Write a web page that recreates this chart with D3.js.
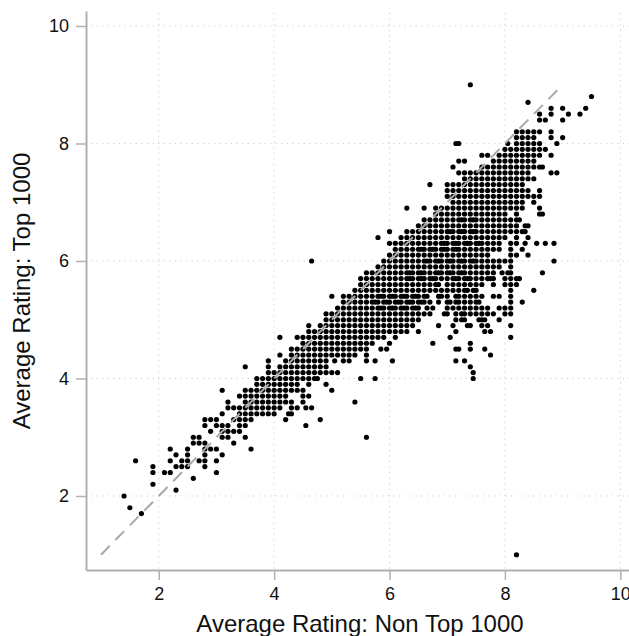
<!DOCTYPE html>
<html>
<head>
<meta charset="utf-8">
<script src="https://cdn.jsdelivr.net/npm/d3@7"></script>
<style>
  html, body { margin: 0; padding: 0; background: #fff; overflow: hidden; }
  text { font-family: "Liberation Sans", Arial, sans-serif; fill: #111; }
</style>
</head>
<body>
<div id="chart"></div>
<script>
// Axis ticks
const xTicks = [2, 4, 6, 8, 10];
const yTicks = [2, 4, 6, 8, 10];
const referenceLine = [1, 9];

// Each entry of nonTopRatings holds the x values of one row of dots
const topRatings = [1.0,1.7,1.8,2.0,2.1,2.2,2.3,2.4,2.5,2.6,2.7,2.8,2.9,3.0,3.1,3.2,3.3,3.4,3.5,3.6,3.7,3.8,3.9,4.0,4.1,4.2,4.3,4.4,4.5,4.6,4.7,4.8,4.9,5.0,5.1,5.2,5.3,5.4,5.5,5.6,5.7,5.8,5.9,6.0,6.1,6.2,6.3,6.4,6.5,6.6,6.7,6.8,6.9,7.0,7.1,7.2,7.3,7.4,7.5,7.6,7.7,7.8,7.9,8.0,8.1,8.2,8.4,8.5,8.6,8.7,8.8,9.0];
const nonTopRatings = [
  [8.2],
  [1.7],
  [1.5],
  [1.4],
  [2.3],
  [1.9],
  [2.6],
  [1.9,2.1,2.2,3.0],
  [1.9,2.3,2.4,2.5,2.8],
  [1.6,2.2,2.4,2.5,2.7,2.8,3.0],
  [2.3,2.5,2.8,3.1],
  [2.2,2.5,2.8,2.9,3.0,3.6],
  [2.6,2.7,2.8,3.3],
  [2.6,2.7,3.1,3.2,3.5,5.6],
  [2.9,3.1,3.2,3.3,3.4],
  [2.8,3.0,3.1,3.2,3.4,3.5,4.55],
  [2.8,2.9,3.0,3.3,3.4,3.5,3.6,4.2,4.8],
  [3.1,3.4,3.5,3.6,3.7,3.8,3.9,4.0,4.25,4.3],
  [3.2,3.3,3.4,3.5,3.6,3.7,3.8,3.9,4.0,4.1,4.3,4.4,4.55,4.65],
  [3.2,3.5,3.6,3.7,3.8,3.9,4.0,4.1,4.2,4.3,4.5,5.4],
  [3.4,3.5,3.6,3.7,3.8,3.9,4.0,4.1,4.2,4.5,4.6],
  [3.1,3.5,3.6,3.7,3.8,3.9,4.0,4.1,4.2,4.3,4.4,4.5,5.0],
  [3.7,3.8,3.9,4.0,4.1,4.2,4.3,4.4,4.6,4.9],
  [3.7,3.8,3.9,4.0,4.1,4.2,4.3,4.4,4.5,4.6,4.7,4.75,5.5,5.75,7.45],
  [3.9,4.0,4.1,4.2,4.3,4.4,4.5,4.6,4.7,4.8,4.9,5.0,5.1,7.45],
  [3.5,3.9,4.1,4.2,4.3,4.4,4.5,4.6,4.7,4.8,4.9,7.4],
  [3.9,4.2,4.3,4.4,4.5,4.6,4.7,4.8,4.9,5.05,5.2,5.3,5.6,5.75,6.05,7.15,7.3],
  [4.1,4.3,4.4,4.5,4.6,4.7,4.8,4.9,5.0,5.1,5.2,5.3,5.4,5.6,7.75],
  [4.3,4.4,4.5,4.6,4.7,4.8,4.9,5.0,5.1,5.2,5.3,5.4,5.5,5.6,5.85,5.95,7.15,7.2,7.4,7.65],
  [4.5,4.6,4.7,4.8,4.9,5.0,5.1,5.2,5.3,5.4,5.5,5.6,5.7,6.0,6.75,7.4],
  [4.1,4.4,4.5,4.6,4.7,4.8,4.9,5.0,5.1,5.2,5.3,5.4,5.5,5.6,5.7,5.8,5.9,6.1,7.05,8.1],
  [4.6,4.7,4.8,4.9,5.0,5.1,5.2,5.3,5.4,5.5,5.6,5.7,5.8,5.9,6.0,6.1,6.2,6.3,6.5,7.15,7.65,7.75],
  [4.6,4.8,4.9,5.0,5.1,5.2,5.3,5.4,5.5,5.6,5.7,5.8,5.9,6.0,6.1,6.2,6.3,6.4,6.85,7.1,7.35,7.4,7.6,7.7,8.1],
  [4.9,5.0,5.1,5.2,5.3,5.4,5.5,5.6,5.7,5.8,5.9,6.0,6.1,6.2,6.3,6.4,6.5,7.15,7.25,7.3,7.55,7.6,7.65,7.9],
  [4.9,5.0,5.1,5.2,5.3,5.4,5.5,5.6,5.7,5.8,5.9,6.0,6.1,6.2,6.3,6.4,6.5,6.6,6.7,6.95,7.0,7.15,7.25,7.3,7.4,7.5,7.6,7.7,7.8,8.0,8.1],
  [5.1,5.2,5.3,5.4,5.5,5.6,5.7,5.8,5.9,6.0,6.1,6.2,6.3,6.4,6.5,6.65,6.75,7.0,7.1,7.2,7.3,7.4,7.5,7.6,7.7,7.9,8.0,8.1],
  [5.2,5.3,5.4,5.5,5.6,5.7,5.8,5.9,6.0,6.1,6.2,6.3,6.4,6.5,6.6,6.7,6.85,7.0,7.05,7.15,7.2,7.3,7.4,7.5,7.55,8.1,8.3],
  [5.0,5.2,5.3,5.4,5.5,5.6,5.7,5.8,5.9,6.0,6.1,6.2,6.3,6.4,6.5,6.6,6.65,6.85,6.9,7.0,7.15,7.2,7.3,7.4,7.5,7.6,7.8,7.9,8.1],
  [5.4,5.5,5.6,5.7,5.8,5.9,6.0,6.1,6.2,6.3,6.4,6.5,6.6,6.7,6.8,6.9,7.0,7.1,7.2,7.3,7.35,7.45,7.5,8.1,8.5],
  [5.5,5.6,5.7,5.8,5.9,6.0,6.1,6.2,6.3,6.4,6.5,6.6,6.7,6.8,6.85,7.0,7.1,7.2,7.3,7.4,7.5,7.6,7.8,8.0,8.1,8.2],
  [5.5,5.6,5.7,5.8,5.9,6.0,6.1,6.2,6.3,6.4,6.5,6.6,6.7,6.8,6.9,7.0,7.1,7.2,7.3,7.4,7.5,7.6,7.7,7.75,7.8,8.0,8.1,8.2,8.25],
  [5.6,5.7,5.8,5.9,6.0,6.1,6.2,6.3,6.4,6.5,6.6,6.7,6.8,6.9,7.0,7.1,7.2,7.3,7.4,7.5,7.6,7.7,7.8,7.95,8.05,8.1,8.65],
  [5.8,5.9,6.0,6.1,6.2,6.3,6.4,6.5,6.6,6.7,6.8,6.9,7.0,7.1,7.2,7.3,7.4,7.5,7.6,7.7,7.8,7.9,8.1],
  [4.65,5.9,6.0,6.1,6.2,6.3,6.4,6.5,6.6,6.7,6.8,6.9,7.0,7.1,7.2,7.3,7.4,7.5,7.6,7.7,7.8,7.9,8.0,8.1,8.85],
  [6.0,6.1,6.2,6.3,6.4,6.5,6.6,6.7,6.8,6.9,7.0,7.1,7.2,7.3,7.4,7.5,7.6,7.7,8.1,8.2,8.4],
  [6.1,6.2,6.3,6.4,6.5,6.6,6.7,6.8,6.9,7.0,7.1,7.2,7.3,7.4,7.5,7.6,7.7,7.8,7.9,8.1,8.3],
  [6.0,6.1,6.2,6.3,6.4,6.5,6.6,6.7,6.8,6.9,7.0,7.1,7.2,7.3,7.4,7.5,7.6,7.7,7.8,7.9,8.1,8.2,8.35,8.55,8.7,8.85],
  [5.8,6.2,6.3,6.4,6.5,6.6,6.7,6.8,6.9,7.0,7.1,7.2,7.3,7.4,7.5,7.6,7.7,7.8,7.9,8.0,8.2,8.4],
  [6.0,6.3,6.4,6.5,6.6,6.7,6.8,6.9,7.0,7.1,7.2,7.3,7.4,7.5,7.6,7.7,7.8,7.9,8.0,8.1,8.2,8.3,8.35],
  [6.5,6.6,6.7,6.8,6.9,7.0,7.1,7.2,7.3,7.4,7.5,7.6,7.7,7.8,7.9,8.0,8.1,8.2,8.35,8.4],
  [6.6,6.7,6.8,6.9,7.0,7.1,7.2,7.3,7.4,7.5,7.6,7.7,7.8,7.9,8.0,8.1,8.2,8.25],
  [6.8,6.9,7.0,7.1,7.2,7.3,7.4,7.5,7.6,7.7,7.8,7.9,8.0,8.2,8.6,8.65],
  [6.3,6.6,6.8,6.9,7.0,7.1,7.2,7.3,7.4,7.5,7.6,7.7,7.8,7.9,8.0,8.1,8.2,8.3,8.6],
  [7.1,7.2,7.3,7.4,7.5,7.6,7.7,7.8,7.9,8.0,8.1,8.2,8.3,8.5],
  [7.0,7.1,7.2,7.3,7.4,7.5,7.6,7.7,7.8,7.9,8.0,8.1,8.2,8.3,8.4,8.5,8.6],
  [7.0,7.1,7.2,7.3,7.4,7.5,7.6,7.7,7.8,7.9,8.0,8.1,8.2,8.3,8.4,8.6],
  [6.7,7.0,7.1,7.2,7.3,7.4,7.5,7.6,7.7,7.8,7.9,8.0,8.1,8.2,8.3],
  [7.3,7.4,7.5,7.6,7.7,7.8,7.9,8.0,8.1,8.2,8.3,8.4,8.5],
  [7.2,7.3,7.4,7.5,7.6,7.7,7.8,7.9,8.0,8.1,8.2,8.3,8.4,8.8,8.9],
  [7.1,7.6,7.7,7.8,7.9,8.0,8.1,8.2,8.3,8.4,8.5,8.6,8.65],
  [7.2,7.3,7.8,7.9,8.0,8.1,8.2,8.3,8.4,8.5],
  [7.6,7.7,7.9,8.0,8.1,8.2,8.3,8.4,8.5,8.6,8.8],
  [8.0,8.1,8.2,8.3,8.4,8.5,8.6,8.7],
  [7.15,7.2,8.05,8.2,8.3,8.4,8.5,8.6,8.9],
  [8.2,8.3,8.4,8.5,8.8,9.0],
  [8.2,8.3,8.4,8.5,8.6,8.8],
  [8.6,8.7,9.0],
  [8.6,8.8,9.1,9.3],
  [8.8,9.0,9.4],
  [8.4],
  [9.5],
  [7.4]
];

// Extra dots in the crowded middle, where neighbours run together into short bars
const crowdedTop = [5.2,5.3,5.4,5.7,5.8,6.0,6.2,6.3,6.5,6.7];
const crowdedNonTop = [
  [5.85,6.05,6.25,6.45],
  [5.75,5.95,6.15,6.35,6.55],
  [5.85,6.05,6.25,6.45],
  [6.35,6.55,6.75,7.15,7.35],
  [6.35,6.55,6.85,7.05,7.25],
  [6.65,6.85,7.05,7.25,7.45],
  [6.55,6.75,6.95,7.15],
  [6.95,7.15,7.35,7.55],
  [7.05,7.25,7.45],
  [7.25,7.45]
];

// chart dimensions
const width = 629, height = 636;
const margin = {top: 11, right: 0, bottom: 66, left: 86};
const axisColor = "#b0b0b0";

const svg = d3.select("#chart")
  .append("svg")
  .attr("width", width)
  .attr("height", height)
  .style("display", "block");

// Set up scales
const xScale = d3.scaleLinear()
  .domain([0.74, 10.15])
  .range([margin.left, width - margin.right]);

const yScale = d3.scaleLinear()
  .domain([0.74, 10.255])
  .range([height - margin.bottom, margin.top]);

// Add grid lines
svg.selectAll("line.verticalGrid")
  .data(xTicks)
  .enter()
  .append("line")
  .attr("class", "verticalGrid")
  .attr("x1", d => xScale(d))
  .attr("x2", d => xScale(d))
  .attr("y1", margin.top + 2)
  .attr("y2", height - margin.bottom)
  .attr("stroke", "#c4c4c4")
  .attr("stroke-width", 1)
  .attr("stroke-dasharray", "1 4.6");

svg.selectAll("line.horizontalGrid")
  .data(yTicks)
  .enter()
  .append("line")
  .attr("class", "horizontalGrid")
  .attr("x1", margin.left + 5)
  .attr("x2", width)
  .attr("y1", d => yScale(d))
  .attr("y2", d => yScale(d))
  .attr("stroke", "#c4c4c4")
  .attr("stroke-width", 1)
  .attr("stroke-dasharray", "1 4.6");

// Add X axis
const xAxis = svg.append("g")
  .attr("transform", `translate(0,${height - margin.bottom})`)
  .call(d3.axisBottom(xScale).tickValues(xTicks).tickFormat(d3.format("d")).tickSize(10).tickSizeOuter(0).tickPadding(7));

// Add Y axis
const yAxis = svg.append("g")
  .attr("transform", `translate(${margin.left},0)`)
  .call(d3.axisLeft(yScale).tickValues(yTicks).tickFormat(d3.format("d")).tickSize(10).tickSizeOuter(0).tickPadding(7));

[xAxis, yAxis].forEach(axis => {
  axis.selectAll(".domain").attr("stroke", axisColor).attr("stroke-width", 2);
  axis.selectAll(".tick line").attr("stroke", axisColor).attr("stroke-width", 1.5);
  axis.selectAll("text").style("font-size", "18px").style("fill", "#111");
});

// Add the dots
const dots = [];
topRatings.forEach((top, i) => nonTopRatings[i].forEach(nonTop => dots.push({nonTop, top})));
crowdedTop.forEach((top, i) => crowdedNonTop[i].forEach(nonTop => dots.push({nonTop, top})));

svg.selectAll("circle")
  .data(dots)
  .enter()
  .append("circle")
  .attr("cx", d => xScale(d.nonTop))
  .attr("cy", d => yScale(d.top))
  .attr("r", 2.6)
  .attr("fill", "#000");

// Add the 45 degree line on top of the dots
svg.append("line")
  .attr("x1", xScale(referenceLine[0]))
  .attr("y1", yScale(referenceLine[0]))
  .attr("x2", xScale(referenceLine[1]))
  .attr("y2", yScale(referenceLine[1]))
  .attr("stroke", "#a8a8a8")
  .attr("stroke-width", 2)
  .attr("stroke-dasharray", "12.5 8.1");

// Add axis labels
svg.append("text")
  .attr("text-anchor", "middle")
  .attr("x", 360)
  .attr("y", 632)
  .style("font-size", "24px")
  .text("Average Rating: Non Top 1000");

svg.append("text")
  .attr("text-anchor", "middle")
  .attr("transform", "rotate(-90)")
  .attr("x", -291)
  .attr("y", 30)
  .style("font-size", "24px")
  .text("Average Rating: Top 1000");
</script>
</body>
</html>
